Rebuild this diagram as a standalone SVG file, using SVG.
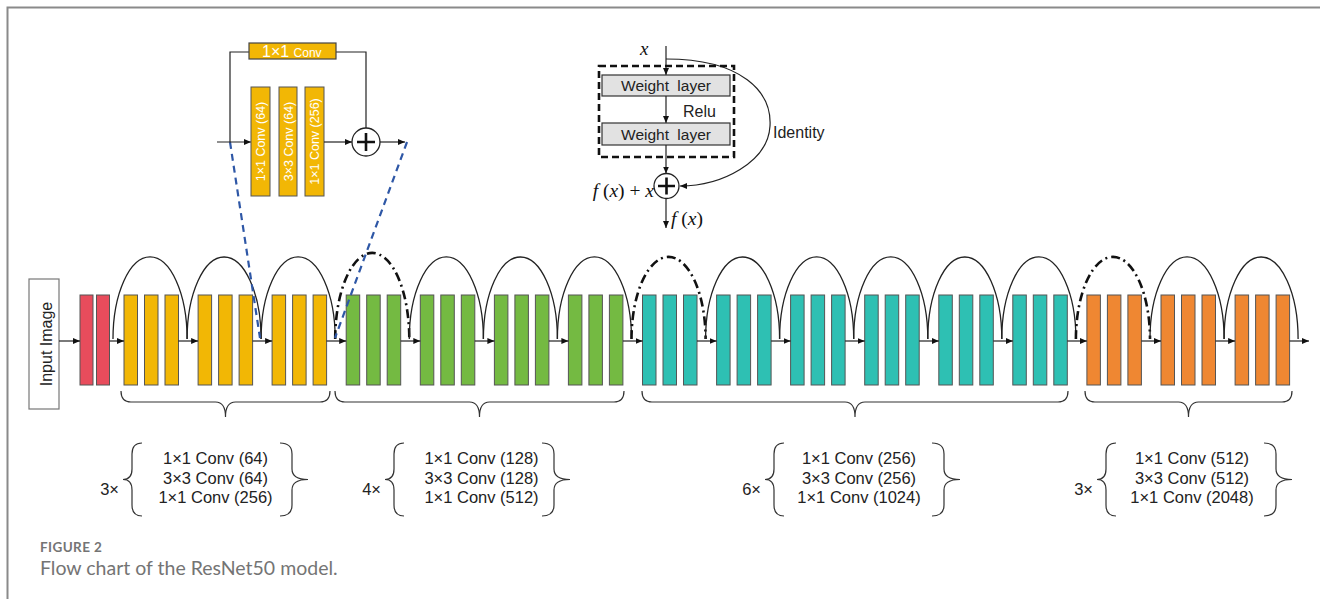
<svg xmlns="http://www.w3.org/2000/svg" width="1320" height="599" viewBox="0 0 1320 599">
<defs>
<marker id="ah" markerUnits="userSpaceOnUse" markerWidth="8" markerHeight="6" refX="7" refY="3" orient="auto"><path d="M0,0 L7,3 L0,6 z" fill="#111"/></marker>
<style>
.t{font-family:"Liberation Sans",Arial,sans-serif;fill:#222}
.bt{font-family:"Liberation Sans",Arial,sans-serif;fill:#222;font-size:16.5px}
.m{font-family:"Liberation Serif","Times New Roman",serif;fill:#111}
.ln{stroke:#222;stroke-width:1.2;fill:none}
.ar{stroke:#222;stroke-width:1.2;fill:none;marker-end:url(#ah)}
.arc{stroke:#222;stroke-width:1.3;fill:none}
.arcd{stroke:#111;stroke-width:2.6;fill:none;stroke-dasharray:9 4 2 4}
.br{stroke:#333;stroke-width:1.2;fill:none}
.bar{stroke:#555;stroke-width:1}
.r{fill:#E84C5C}.y{fill:#F2B705}.g{fill:#74BA42}.c{fill:#2EC0B3}.o{fill:#EF8732}
.blue{stroke:#2E57A6;stroke-width:2.2;stroke-dasharray:7 5;fill:none}
.wl{fill:#E2E2E2;stroke:#333;stroke-width:1.2}
.wt{font-family:"Liberation Sans",Arial,sans-serif;fill:#fff}
.cap{font-family:Lato,"Open Sans",sans-serif;fill:#747474}
</style>
</defs>
<rect width="1320" height="599" fill="#fff"/>
<path d="M7.5,599 V7.5 H1320" stroke="#8a8a8a" stroke-width="2" fill="none"/>

<g id="input-image">
<rect x="29" y="279" width="30" height="130" fill="#fff" stroke="#777" stroke-width="1.2"/>
<text class="t" font-size="16" text-anchor="middle" transform="translate(51.5,344) rotate(-90)">Input Image</text>
</g>

<g id="stem" class="bar">
<rect class="r" x="80" y="295" width="13" height="90"/>
<rect class="r" x="96.5" y="295" width="13" height="90"/>
</g>

<g id="stage1" class="bar">
<rect class="y" x="124" y="295" width="13.5" height="90"/><rect class="y" x="144.5" y="295" width="13.5" height="90"/><rect class="y" x="165" y="295" width="13.5" height="90"/>
<rect class="y" x="198.1" y="295" width="13.5" height="90"/><rect class="y" x="218.6" y="295" width="13.5" height="90"/><rect class="y" x="239.1" y="295" width="13.5" height="90"/>
<rect class="y" x="272.1" y="295" width="13.5" height="90"/><rect class="y" x="292.6" y="295" width="13.5" height="90"/><rect class="y" x="313.1" y="295" width="13.5" height="90"/>
</g>
<g id="stage2" class="bar">
<rect class="g" x="346.2" y="295" width="13.5" height="90"/><rect class="g" x="366.7" y="295" width="13.5" height="90"/><rect class="g" x="387.2" y="295" width="13.5" height="90"/>
<rect class="g" x="420.3" y="295" width="13.5" height="90"/><rect class="g" x="440.8" y="295" width="13.5" height="90"/><rect class="g" x="461.3" y="295" width="13.5" height="90"/>
<rect class="g" x="494.4" y="295" width="13.5" height="90"/><rect class="g" x="514.9" y="295" width="13.5" height="90"/><rect class="g" x="535.4" y="295" width="13.5" height="90"/>
<rect class="g" x="568.4" y="295" width="13.5" height="90"/><rect class="g" x="588.9" y="295" width="13.5" height="90"/><rect class="g" x="609.4" y="295" width="13.5" height="90"/>
</g>
<g id="stage3" class="bar">
<rect class="c" x="642.5" y="295" width="13.5" height="90"/><rect class="c" x="663" y="295" width="13.5" height="90"/><rect class="c" x="683.5" y="295" width="13.5" height="90"/>
<rect class="c" x="716.6" y="295" width="13.5" height="90"/><rect class="c" x="737.1" y="295" width="13.5" height="90"/><rect class="c" x="757.6" y="295" width="13.5" height="90"/>
<rect class="c" x="790.6" y="295" width="13.5" height="90"/><rect class="c" x="811.1" y="295" width="13.5" height="90"/><rect class="c" x="831.6" y="295" width="13.5" height="90"/>
<rect class="c" x="864.7" y="295" width="13.5" height="90"/><rect class="c" x="885.2" y="295" width="13.5" height="90"/><rect class="c" x="905.7" y="295" width="13.5" height="90"/>
<rect class="c" x="938.8" y="295" width="13.5" height="90"/><rect class="c" x="959.3" y="295" width="13.5" height="90"/><rect class="c" x="979.8" y="295" width="13.5" height="90"/>
<rect class="c" x="1012.8" y="295" width="13.5" height="90"/><rect class="c" x="1033.3" y="295" width="13.5" height="90"/><rect class="c" x="1053.8" y="295" width="13.5" height="90"/>
</g>
<g id="stage4" class="bar">
<rect class="o" x="1086.9" y="295" width="13.5" height="90"/><rect class="o" x="1107.4" y="295" width="13.5" height="90"/><rect class="o" x="1127.9" y="295" width="13.5" height="90"/>
<rect class="o" x="1161" y="295" width="13.5" height="90"/><rect class="o" x="1181.5" y="295" width="13.5" height="90"/><rect class="o" x="1202" y="295" width="13.5" height="90"/>
<rect class="o" x="1235.1" y="295" width="13.5" height="90"/><rect class="o" x="1255.6" y="295" width="13.5" height="90"/><rect class="o" x="1276.1" y="295" width="13.5" height="90"/>
</g>

<g id="connectors">
<line class="ar" x1="59" y1="341" x2="80" y2="341"/>
<line class="ar" x1="109.5" y1="341" x2="124" y2="341"/>
<line class="ar" x1="178.5" y1="341" x2="198.1" y2="341"/>
<line class="ar" x1="252.6" y1="341" x2="272.1" y2="341"/>
<line class="ar" x1="326.6" y1="341" x2="346.2" y2="341"/>
<line class="ar" x1="400.7" y1="341" x2="420.3" y2="341"/>
<line class="ar" x1="474.8" y1="341" x2="494.4" y2="341"/>
<line class="ar" x1="548.9" y1="341" x2="568.4" y2="341"/>
<line class="ar" x1="622.9" y1="341" x2="642.5" y2="341"/>
<line class="ar" x1="697" y1="341" x2="716.6" y2="341"/>
<line class="ar" x1="771.1" y1="341" x2="790.6" y2="341"/>
<line class="ar" x1="845.1" y1="341" x2="864.7" y2="341"/>
<line class="ar" x1="919.2" y1="341" x2="938.8" y2="341"/>
<line class="ar" x1="993.3" y1="341" x2="1012.8" y2="341"/>
<line class="ar" x1="1067.3" y1="341" x2="1086.9" y2="341"/>
<line class="ar" x1="1141.4" y1="341" x2="1161" y2="341"/>
<line class="ar" x1="1215.5" y1="341" x2="1235.1" y2="341"/>
<line class="ar" x1="1289.6" y1="341" x2="1309" y2="341"/>

<path class="arc" d="M113,339 A37 82 0 0 1 187.1,339"/>
<path class="arc" d="M187.1,339 A37 82 0 0 1 261.1,339"/>
<path class="arc" d="M261.1,339 A37 82 0 0 1 335.2,339"/>
<path class="arcd" d="M335.2,339 A37 86 0 0 1 409.3,339"/>
<path class="arc" d="M409.3,339 A37 82 0 0 1 483.4,339"/>
<path class="arc" d="M483.4,339 A37 82 0 0 1 557.4,339"/>
<path class="arc" d="M557.4,339 A37 82 0 0 1 631.5,339"/>
<path class="arcd" d="M631.5,339 A37 82 0 0 1 705.6,339"/>
<path class="arc" d="M705.6,339 A37 82 0 0 1 779.6,339"/>
<path class="arc" d="M779.6,339 A37 82 0 0 1 853.7,339"/>
<path class="arc" d="M853.7,339 A37 82 0 0 1 927.8,339"/>
<path class="arc" d="M927.8,339 A37 82 0 0 1 1001.8,339"/>
<path class="arc" d="M1001.8,339 A37 82 0 0 1 1075.9,339"/>
<path class="arcd" d="M1075.9,339 A37 82 0 0 1 1150,339"/>
<path class="arc" d="M1150,339 A37 82 0 0 1 1224.1,339"/>
<path class="arc" d="M1224.1,339 A37 82 0 0 1 1298.1,339"/>

<line class="blue" x1="230" y1="142" x2="260" y2="338"/>
<line class="blue" x1="407" y1="142" x2="335" y2="338"/>
</g>

<g id="braces-bottom">
<path class="br" d="M121,391 Q121,402 131,402 H215.5 Q225.5,402 225.5,417 Q225.5,402 235.5,402 H320 Q330,402 330,391"/>
<path class="br" d="M335,391 Q335,402 345,402 H469.5 Q479.5,402 479.5,417 Q479.5,402 489.5,402 H614 Q624,402 624,391"/>
<path class="br" d="M642,391 Q642,402 652,402 H845 Q855,402 855,417 Q855,402 865,402 H1058 Q1068,402 1068,391"/>
<path class="br" d="M1085,391 Q1085,402 1095,402 H1178.5 Q1188.5,402 1188.5,417 Q1188.5,402 1198.5,402 H1282 Q1292,402 1292,391"/>
</g>

<g id="block1">
<text class="bt" x="119" y="495" text-anchor="end">3×</text>
<path class="br" d="M142,443 Q132,443 132,454 V469 Q132,479.5 123,479.5 Q132,479.5 132,490 V505 Q132,516 142,516"/>
<text class="bt" text-anchor="middle"><tspan x="215.5" y="464">1×1 Conv (64)</tspan><tspan x="215.5" y="483.5">3×3 Conv (64)</tspan><tspan x="215.5" y="503">1×1 Conv (256)</tspan></text>
<path class="br" d="M280,443 Q292,443 292,454 V469 Q292,479.5 308,479.5 Q292,479.5 292,490 V505 Q292,516 280,516"/>
</g>
<g id="block2">
<text class="bt" x="381" y="495" text-anchor="end">4×</text>
<path class="br" d="M404,443 Q394,443 394,454 V469 Q394,479.5 385,479.5 Q394,479.5 394,490 V505 Q394,516 404,516"/>
<text class="bt" text-anchor="middle"><tspan x="481.5" y="464">1×1 Conv (128)</tspan><tspan x="481.5" y="483.5">3×3 Conv (128)</tspan><tspan x="481.5" y="503">1×1 Conv (512)</tspan></text>
<path class="br" d="M542,443 Q554,443 554,454 V469 Q554,479.5 570,479.5 Q554,479.5 554,490 V505 Q554,516 542,516"/>
</g>
<g id="block3">
<text class="bt" x="761" y="495" text-anchor="end">6×</text>
<path class="br" d="M784,443 Q774,443 774,454 V469 Q774,479.5 765,479.5 Q774,479.5 774,490 V505 Q774,516 784,516"/>
<text class="bt" text-anchor="middle"><tspan x="859" y="464">1×1 Conv (256)</tspan><tspan x="859" y="483.5">3×3 Conv (256)</tspan><tspan x="859" y="503">1×1 Conv (1024)</tspan></text>
<path class="br" d="M932,443 Q944,443 944,454 V469 Q944,479.5 960,479.5 Q944,479.5 944,490 V505 Q944,516 932,516"/>
</g>
<g id="block4">
<text class="bt" x="1093" y="495" text-anchor="end">3×</text>
<path class="br" d="M1116,443 Q1106,443 1106,454 V469 Q1106,479.5 1097,479.5 Q1106,479.5 1106,490 V505 Q1106,516 1116,516"/>
<text class="bt" text-anchor="middle"><tspan x="1192" y="464">1×1 Conv (512)</tspan><tspan x="1192" y="483.5">3×3 Conv (512)</tspan><tspan x="1192" y="503">1×1 Conv (2048)</tspan></text>
<path class="br" d="M1264,443 Q1276,443 1276,454 V469 Q1276,479.5 1292,479.5 Q1276,479.5 1276,490 V505 Q1276,516 1264,516"/>
</g>

<g id="bottleneck-inset">
<path class="ln" d="M230,142 V52 H249"/>
<path class="ln" d="M336,52 H366 V128"/>
<rect x="249" y="43" width="87" height="16" fill="#F2B705" stroke="#444" stroke-width="1.2"/>
<text class="wt" x="262" y="57"><tspan font-size="16">1×1 </tspan><tspan font-size="12">Conv</tspan></text>
<line class="ar" x1="217" y1="142" x2="251" y2="142"/>
<rect class="y bar" x="251" y="87" width="19" height="109"/>
<rect class="y bar" x="279" y="87" width="18" height="109"/>
<rect class="y bar" x="305" y="87" width="19" height="109"/>
<text class="wt" font-size="12.5" text-anchor="middle" transform="translate(265,141.5) rotate(-90)">1×1 Conv (64)</text>
<text class="wt" font-size="12.5" text-anchor="middle" transform="translate(292.5,141.5) rotate(-90)">3×3 Conv (64)</text>
<text class="wt" font-size="12.5" text-anchor="middle" transform="translate(318.8,141.5) rotate(-90)">1×1 Conv (256)</text>
<line class="ar" x1="324" y1="142" x2="352" y2="142"/>
<circle cx="366" cy="142" r="14" fill="#fff" stroke="#222" stroke-width="1.3"/>
<path d="M357,142 H375 M366,133 V151" stroke="#111" stroke-width="2.6"/>
<line class="ar" x1="380" y1="142" x2="405" y2="142"/>
</g>

<g id="residual-block">
<text class="m" font-size="19" font-style="italic" x="640" y="55">x</text>
<line class="ar" x1="666" y1="46" x2="666" y2="75"/>
<path class="ar" d="M666,59 C742,59 772,92 770,126 C768,162 722,186 680,186"/>
<rect x="599" y="66" width="135" height="91" fill="none" stroke="#111" stroke-width="2.6" stroke-dasharray="7 4"/>
<rect class="wl" x="602" y="75" width="128" height="21"/>
<text class="t" font-size="15.5" x="666" y="91" text-anchor="middle" word-spacing="4">Weight layer</text>
<line class="ar" x1="666" y1="96" x2="666" y2="123"/>
<text class="t" font-size="16" x="683" y="117">Relu</text>
<rect class="wl" x="602" y="123" width="128" height="22"/>
<text class="t" font-size="15.5" x="666" y="140" text-anchor="middle" word-spacing="4">Weight layer</text>
<line class="ar" x1="666" y1="145" x2="666" y2="173.5"/>
<circle cx="666.5" cy="186" r="12.5" fill="#fff" stroke="#222" stroke-width="1.3"/>
<path d="M658,186 H675 M666.5,177.5 V194.5" stroke="#111" stroke-width="2.6"/>
<line class="ar" x1="666" y1="198.5" x2="666" y2="228"/>
<text class="m" font-size="19.5" x="654" y="197" text-anchor="end"><tspan font-style="italic">f</tspan> (<tspan font-style="italic">x</tspan>) + <tspan font-style="italic">x</tspan></text>
<text class="m" font-size="19.5" x="671" y="225"><tspan font-style="italic">f</tspan> (<tspan font-style="italic">x</tspan>)</text>
<text class="t" font-size="16" x="773" y="138">Identity</text>
</g>

<g id="caption">
<text class="cap" font-size="13.5" font-weight="bold" x="40" y="552" letter-spacing="0.4">FIGURE 2</text>
<text class="cap" font-size="19.5" x="40" y="575">Flow chart of the ResNet50 model.</text>
</g>
</svg>
